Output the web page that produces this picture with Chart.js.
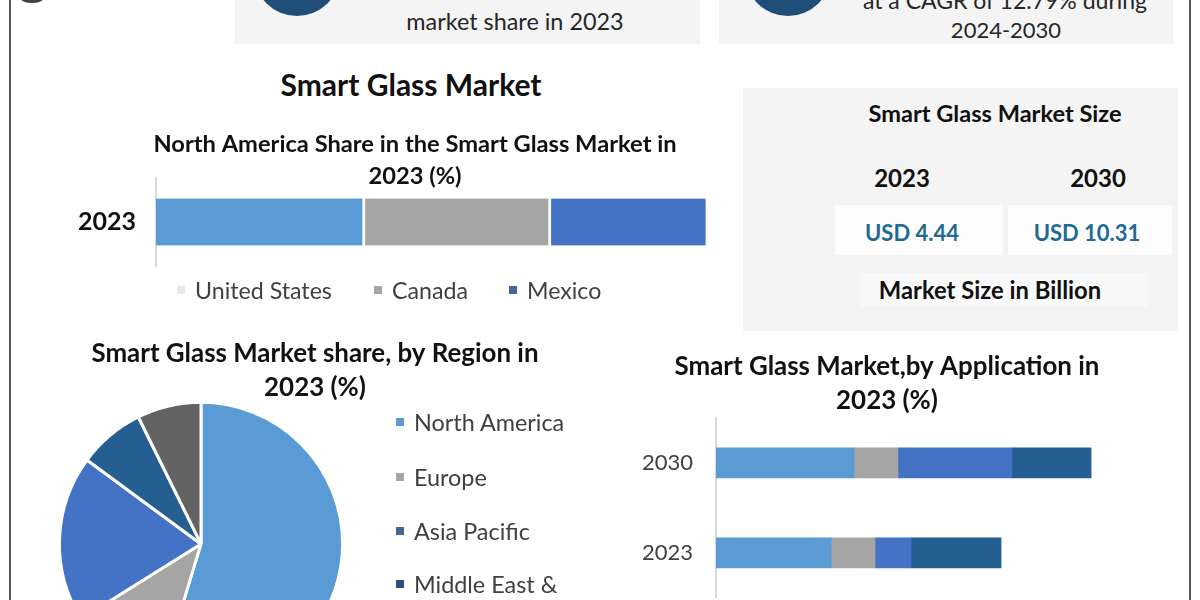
<!DOCTYPE html>
<html>
<head>
<meta charset="utf-8">
<title>Smart Glass Market</title>
<script src="https://cdn.jsdelivr.net/npm/chart.js@4"></script>
<style>
html, body { margin: 0; padding: 0; background: #fff; }
#page { position: relative; width: 1200px; height: 600px; overflow: hidden; font-family: Lato, sans-serif; color: #111; background: #fff; }
.txt { position: absolute; white-space: nowrap; transform: translate(-50%, -50%); }
.panel { position: absolute; background: #f4f4f4; }
.white { position: absolute; background: #fdfdfd; }
.circle { position: absolute; background: #1f4e79; border-radius: 50%; }
.frame { position: absolute; top: 0; width: 2px; height: 600px; background: #555; }
.legend-item { position: absolute; color: #404040; white-space: nowrap; transform: translateY(-50%); }
.marker { position: absolute; width: 8px; height: 8px; transform: translateY(-50%); }
canvas { position: absolute; }
</style>
</head>
<body>
<div id="page">
  <div class="frame" style="left:9px"></div>
  <div class="frame" style="left:1189px"></div>

  <div class="circle" style="left:20px;top:-8px;width:24px;height:11px;background:#444"></div>
  <div class="panel" style="left:235px;top:0;width:465px;height:44px"></div>
  <div class="panel" style="left:719px;top:0;width:454px;height:44px"></div>
  <div class="circle" style="left:254px;top:-70px;width:86px;height:86px"></div>
  <div class="circle" style="left:745px;top:-70px;width:86px;height:86px"></div>
  <div class="txt" style="left:515px;top:21px;font-size:23.4px;color:#262626">market share in 2023</div>
  <div class="txt" style="left:1005px;top:0;font-size:23px;color:#262626">at a CAGR of 12.79% during</div>
  <div class="txt" style="left:1006px;top:29px;font-size:22px;color:#262626">2024-2030</div>

  <div class="txt" style="left:411px;top:84px;font-size:30px;font-weight:700">Smart Glass Market</div>

  <div class="panel" style="left:743px;top:88px;width:435px;height:243px"></div>
  <div class="white" style="left:835px;top:205px;width:168px;height:50px"></div>
  <div class="white" style="left:1008px;top:205px;width:164px;height:50px"></div>
  <div class="white" style="left:860px;top:273px;width:288px;height:33px;background:#f9f9f9"></div>
  <div class="txt" style="left:995px;top:113px;font-size:23.6px;font-weight:700">Smart Glass Market Size</div>
  <div class="txt" style="left:902px;top:177px;font-size:24px;font-weight:700">2023</div>
  <div class="txt" style="left:1098px;top:177px;font-size:24px;font-weight:700">2030</div>
  <div class="txt" style="left:912px;top:232px;font-size:22px;font-weight:700;color:#1f6a94">USD 4.44</div>
  <div class="txt" style="left:1087px;top:232px;font-size:22px;font-weight:700;color:#1f6a94">USD 10.31</div>
  <div class="txt" style="left:990px;top:290px;font-size:23.8px;font-weight:700">Market Size in Billion</div>

  <canvas id="north_america" width="690" height="165" style="left:70px;top:128px"></canvas>
  <div id="north_america_legend"></div>

  <canvas id="region_pie" width="550" height="350" style="left:40px;top:337px"></canvas>
  <div id="region_legend"></div>

  <canvas id="application" width="574" height="276" style="left:600px;top:350px"></canvas>
</div>

<script>
const naYears = ['2023'];
const naLabels = ['United States', 'Canada', 'Mexico'];
const naValues = [38, 33.8, 28.6];
const naColors = ['#5b9bd5', '#a5a5a5', '#4472c4'];
const naMarkerColors = ['#e8e8e8', '#a5a5a5', '#44649c'];
const naLegendTextX = [195, 392, 527];

const regionLabels = ['North America', 'Europe', 'Asia Pacific', 'Middle East & Africa', 'South America'];
const regionValues = [54.7, 11.4, 19, 7.6, 7.3];
const regionColors = ['#5b9bd5', '#a5a5a5', '#4472c4', '#255e91', '#636363'];
const regionLegendLines = ['North America', 'Europe', 'Asia Pacific', 'Middle East &'];
const regionLegendMarkers = ['#5b9bd5', '#a5a5a5', '#44649c', '#2f4f7f'];

const appYears = ['2030', '2023'];
const appSeries1 = [36.8, 30.7];
const appSeries2 = [11.7, 11.7];
const appSeries3 = [30.4, 9.6];
const appSeries4 = [21.1, 24];
const appColors = ['#5b9bd5', '#a5a5a5', '#4472c4', '#255e91'];

const fontName = 'Lato, sans-serif';
const axisLine = '#d9d9d9';

function titleOptions(text, size, lineHeight, bottom) {
    return {
        display: true,
        text: text,
        color: '#111',
        font: { family: fontName, size: size, weight: 'bold', lineHeight: lineHeight },
        padding: { top: 0, bottom: bottom }
    };
}

function hBarOptions(title, yWidth, xMax, tickFont, tickColor, tickPad) {
    return {
        indexAxis: 'y',
        responsive: false,
        animation: false,
        plugins: {
            legend: { display: false },
            tooltip: { enabled: false },
            title: title
        },
        scales: {
            x: { display: false, stacked: true, min: 0, max: xMax },
            y: {
                stacked: true,
                afterFit: function (s) { s.width = yWidth; },
                grid: { display: false },
                border: { color: axisLine, width: 2 },
                ticks: { color: tickColor, font: tickFont, padding: tickPad }
            }
        }
    };
}

// top stacked bar
new Chart(document.getElementById('north_america'), {
    type: 'bar',
    data: {
        labels: naYears,
        datasets: naLabels.map(function (name, i) {
            return { label: name, data: [naValues[i]], backgroundColor: naColors[i], borderColor: '#fff', borderWidth: { right: 3 }, borderSkipped: false, barThickness: 47 };
        })
    },
    options: hBarOptions(titleOptions(['North America Share in the Smart Glass Market in', '2023 (%)'], 23.7, 1.35, -14),
        86, 109.8, { family: fontName, size: 25, weight: 'bold' }, '#111', 12)
});

// pie sits left of the canvas centre, the title stays centred over the whole canvas
const pieLeftSide = {
    id: 'pieLeftSide',
    afterLayout: function (chart) {
        chart.chartArea.right = 322;
        chart.chartArea.width = 322;
    }
};
new Chart(document.getElementById('region_pie'), {
    type: 'pie',
    plugins: [pieLeftSide],
    data: {
        labels: regionLabels,
        datasets: [{ data: regionValues, backgroundColor: regionColors, borderColor: '#fff', borderWidth: 3 }]
    },
    options: {
        responsive: false,
        animation: false,
        plugins: {
            legend: { display: false },
            tooltip: { enabled: false },
            title: titleOptions(['Smart Glass Market share, by Region in', '2023 (%)'], 25.9, 1.31, -4)
        }
    }
});

// bottom stacked bar
const appValues = [appSeries1, appSeries2, appSeries3, appSeries4];
new Chart(document.getElementById('application'), {
    type: 'bar',
    data: {
        labels: appYears,
        datasets: appValues.map(function (vals, i) {
            return { label: 'Application ' + (i + 1), data: vals, backgroundColor: appColors[i], barThickness: 30 };
        })
    },
    options: hBarOptions(titleOptions(['Smart Glass Market,by Application in', '2023 (%)'], 25.9, 1.31, 0),
        116, 122.1, { family: fontName, size: 22 }, '#404040', 15)
});

// legends drawn as html so they can sit where the picture has them
function addLegend(holder, text, markerColor, textX, y, markerX, size) {
    const m = document.createElement('div');
    m.className = 'marker';
    m.style.cssText = 'left:' + markerX + 'px;top:' + y + 'px;background:' + markerColor;
    holder.appendChild(m);
    const t = document.createElement('div');
    t.className = 'legend-item';
    t.style.cssText = 'left:' + textX + 'px;top:' + y + 'px;font-size:' + size + 'px';
    t.textContent = text;
    holder.appendChild(t);
}
const naHolder = document.getElementById('north_america_legend');
naLabels.forEach(function (name, i) {
    addLegend(naHolder, name, naMarkerColors[i], naLegendTextX[i], 290, naLegendTextX[i] - 18, 23.2);
});
const regionHolder = document.getElementById('region_legend');
const regionLegendY = [422, 477, 531, 584];
regionLegendLines.forEach(function (name, i) {
    addLegend(regionHolder, name, regionLegendMarkers[i], 414, regionLegendY[i], 396, 23.4);
});
</script>
</body>
</html>
